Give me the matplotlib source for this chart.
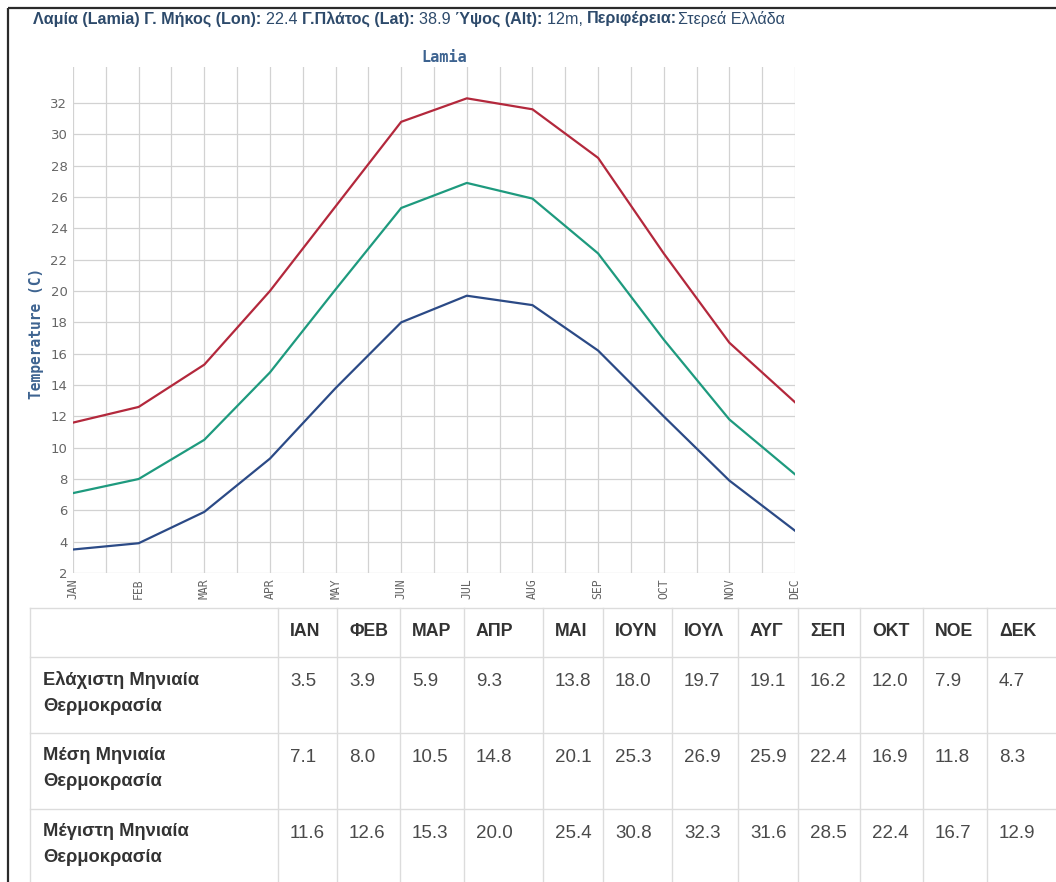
import matplotlib
matplotlib.use("Agg")
import matplotlib.pyplot as plt

# monthly climate data for Lamia
months = ["JAN", "FEB", "MAR", "APR", "MAY", "JUN", "JUL", "AUG", "SEP", "OCT", "NOV", "DEC"]
months_gr = ["ΙΑΝ", "ΦΕΒ", "ΜΑΡ", "ΑΠΡ", "ΜΑΙ", "ΙΟΥΝ", "ΙΟΥΛ", "ΑΥΓ", "ΣΕΠ", "ΟΚΤ", "ΝΟΕ", "ΔΕΚ"]
t_min = [3.5, 3.9, 5.9, 9.3, 13.8, 18.0, 19.7, 19.1, 16.2, 12.0, 7.9, 4.7]
t_mean = [7.1, 8.0, 10.5, 14.8, 20.1, 25.3, 26.9, 25.9, 22.4, 16.9, 11.8, 8.3]
t_max = [11.6, 12.6, 15.3, 20.0, 25.4, 30.8, 32.3, 31.6, 28.5, 22.4, 16.7, 12.9]
row_names = ["Ελάχιστη Μηνιαία\nΘερμοκρασία", "Μέση Μηνιαία\nΘερμοκρασία", "Μέγιστη Μηνιαία\nΘερμοκρασία"]
header = [("Λαμία (Lamia) Γ. Μήκος (Lon): ", "bold"), ("22.4 ", "normal"),
          ("Γ.Πλάτος (Lat): ", "bold"), ("38.9 ", "normal"),
          ("Ύψος (Alt): ", "bold"), ("12m, ", "normal"),
          ("Περιφέρεια:", "bold"), ("Στερεά Ελλάδα", "normal")]

W, H = 1056, 882
fig = plt.figure(figsize=(W / 100, H / 100), dpi=100)

# background overlay in pixel coords
bg = fig.add_axes([0, 0, 1, 1], zorder=0)
bg.set_xlim(0, W); bg.set_ylim(H, 0); bg.axis("off")
bg.plot([8, 8], [8, H], color="#2b2b2b", lw=1.6, solid_capstyle="butt")
bg.plot([8, W], [8, 8], color="#2b2b2b", lw=1.6, solid_capstyle="butt")

# header line, bold / normal pieces
hc = "#2d4a6b"
x = 33
r = fig.canvas.get_renderer()
for txt, wt in header:
    t = bg.text(x, 19, txt, fontsize=11.6, fontweight=wt, color=hc,
                family="Liberation Sans", va="center", ha="left")
    bb = t.get_window_extent(renderer=r)
    x += bb.width

# chart
ax = fig.add_axes([73 / W, 1 - 573 / H, (795 - 73) / W, (573 - 67) / H], zorder=1)
xs = list(range(len(months)))
ax.plot(xs, t_max, color="#b3283c", lw=1.6)
ax.plot(xs, t_mean, color="#1e9a7e", lw=1.6)
ax.plot(xs, t_min, color="#2b4a86", lw=1.6)
ax.set_xlim(0, 11)
ax.set_ylim(2, 34.3)
ax.set_yticks(range(2, 33, 2))
ax.set_xticks(xs)
ax.set_xticks([i + 0.5 for i in range(11)], minor=True)
ax.set_xticklabels(months, rotation=90, fontsize=8.3, family="DejaVu Sans Mono", color="#666666")
ax.tick_params(axis="y", labelsize=9.5, labelcolor="#666666", length=0, pad=4)
ax.tick_params(axis="x", length=0, pad=4)
ax.tick_params(axis="x", which="minor", length=0)
ax.grid(True, which="both", color="#d2d2d2", lw=0.9)
ax.set_axisbelow(True)
for s in ax.spines.values():
    s.set_visible(False)
ax.text(0.514, 1.0 + 10 / 506, "Lamia", transform=ax.transAxes, ha="center", va="center",
        fontsize=11, fontweight="bold", family="DejaVu Sans Mono", color="#3d6390")
ax.set_ylabel("Temperature (C)", fontsize=10.5, fontweight="bold", family="DejaVu Sans Mono",
              color="#3d6390")
ax.yaxis.set_label_coords(-0.04, 0.474)

# table
col_x = [30, 278, 337, 400, 464, 543, 603, 672, 738, 798, 860, 923, 987]
row_y = [608, 657, 733, 809]
lc = "#dcdcdc"
for cx in col_x:
    bg.plot([cx, cx], [row_y[0], H], color=lc, lw=1.0)
for ry in row_y:
    bg.plot([col_x[0], W], [ry, ry], color=lc, lw=1.0)
tc = "#333333"
for i, m in enumerate(months_gr):
    bg.text(col_x[i + 1] + 12, 632, m, fontsize=12.8, fontweight="bold", color=tc,
            family="Liberation Sans", va="center")
for j, (name, vals) in enumerate(zip(row_names, [t_min, t_mean, t_max])):
    y0 = row_y[j + 1] + 24
    bg.text(43, y0 - 10, name, fontsize=13.2, fontweight="bold", color=tc,
            family="Liberation Sans", va="top", linespacing=1.72)
    for i, v in enumerate(vals):
        bg.text(col_x[i + 1] + 12, y0, f"{v:.1f}", fontsize=13.5, color="#4a4a4a",
                family="Liberation Sans", va="center")

fig.savefig("out.png", dpi=100)
